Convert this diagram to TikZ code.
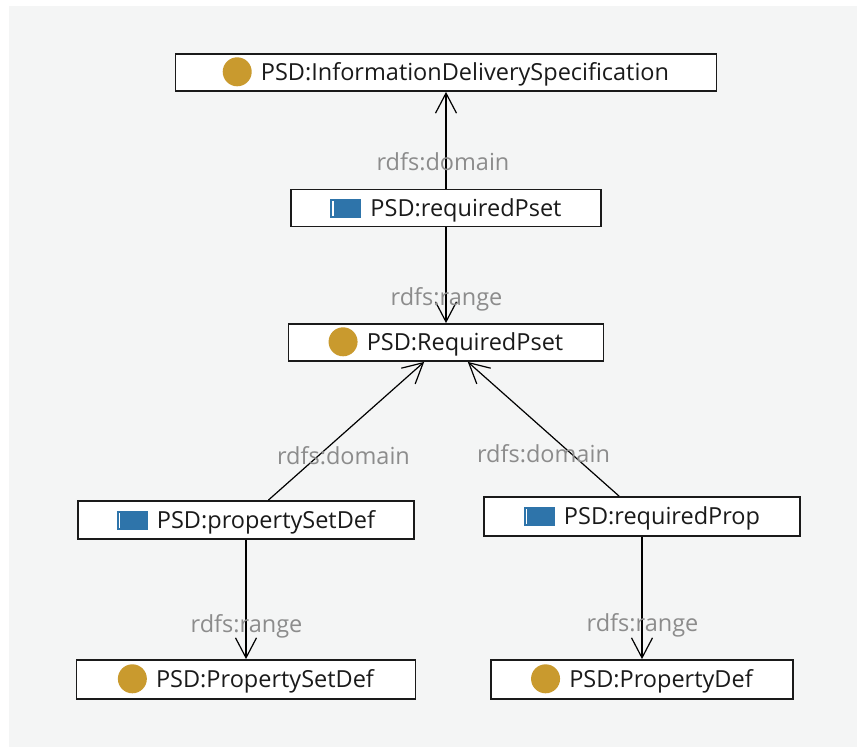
\documentclass[tikz,border=0pt]{standalone}
\usepackage{fontspec}
\setmainfont{Open Sans}
\usetikzlibrary{arrows.meta}
\definecolor{panel}{HTML}{F4F5F5}
\definecolor{gold}{HTML}{C99A2E}
\definecolor{propblue}{HTML}{2E74AA}
\definecolor{lblgray}{HTML}{8C8C8C}
\definecolor{txt}{HTML}{1A1A1A}
\newcommand\ontclass[6]{%
  \node[box, minimum width=#4pt, minimum height=#5pt] (#1) at (#2,#3) {};
  \node[ntext] (#1-t) at ([yshift=-8pt]#1.center) {\hspace*{38pt}#6};
  \fill[gold] ([xshift=14.5pt,yshift=8.7pt]#1-t.base west) circle (14.5pt);
}
\newcommand\ontprop[6]{%
  \node[box, minimum width=#4pt, minimum height=#5pt] (#1) at (#2,#3) {};
  \node[ntext] (#1-t) at ([yshift=-8pt]#1.center) {\hspace*{40pt}#6};
  \fill[propblue] ([yshift=-1.5pt]#1-t.base west) rectangle ++(31pt,19pt);
  \fill[white] ([xshift=2.2pt,yshift=0.5pt]#1-t.base west) rectangle ++(1.2pt,15pt);
}
\begin{document}
\begin{tikzpicture}[x=1pt,y=-1pt,
  box/.style={draw=txt, line width=1.8pt, fill=white, inner sep=0pt},
  ntext/.style={inner sep=0pt, anchor=base, text=txt, font=\fontsize{23.5}{28}\selectfont},
  elabel/.style={inner sep=0pt, anchor=base, text=lblgray, font=\fontsize{23.5}{28}\selectfont},
  arr/.style={draw=black, line width=1.2pt, -{Straight Barb[length=20pt,width=21pt,line width=1.2pt]}}]
\useasboundingbox (0,0) rectangle (857,747);
\fill[white] (0,0) rectangle (857,747);
\fill[panel] (9,6) rectangle (857,747);

\ontclass{ids}{446}{72.5}{541}{37}{PSD:InformationDeliverySpecification}
\ontprop{reqpsetP}{446}{208}{310}{37}{PSD:requiredPset}
\ontclass{reqpsetC}{446}{342.5}{315}{37}{PSD:RequiredPset}
\ontprop{psdefP}{246}{520}{336}{38}{PSD:propertySetDef}
\ontprop{reqprop}{642}{516.5}{316}{39}{PSD:requiredProp}
\ontclass{psdefC}{246}{679.5}{339}{39}{PSD:PropertySetDef}
\ontclass{propdef}{642}{679.5}{302}{39}{PSD:PropertyDef}

\draw[arr] (reqpsetP) -- (ids);
\draw[arr] (reqpsetP) -- (reqpsetC);
\draw[arr] (psdefP) -- (reqpsetC);
\draw[arr] (reqprop) -- (reqpsetC);
\draw[arr] (psdefP) -- (psdefC);
\draw[arr] (reqprop) -- (propdef);

\node[elabel] (l1) at (443,170) {rdfs:domain};
\node[elabel] (l2) at (446.5,305) {rdfs:range};
\node[elabel] (l3) at (343.5,464) {rdfs:domain};
\node[elabel] (l4) at (543.5,462) {rdfs:domain};
\node[elabel] (l5) at (246.5,632) {rdfs:range};
\node[elabel] (l6) at (642.5,631) {rdfs:range};
\end{tikzpicture}
\end{document}
